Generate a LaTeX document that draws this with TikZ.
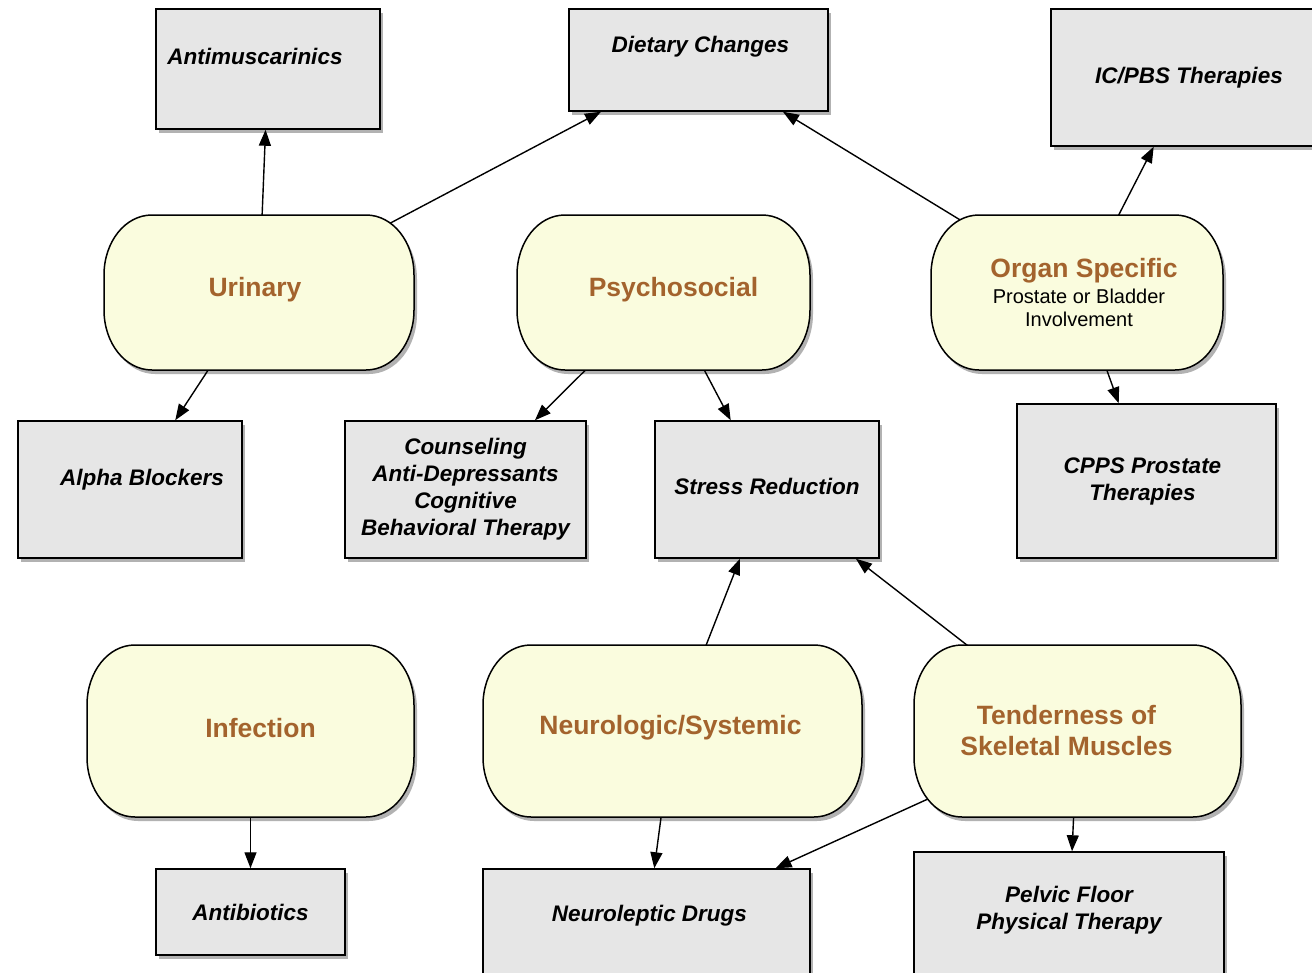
\documentclass[tikz,border=0pt]{standalone}
\usepackage{fontspec}
\setmainfont{Liberation Sans}
\usetikzlibrary{shadows,arrows.meta,backgrounds}
\definecolor{boxgray}{RGB}{230,230,230}
\definecolor{ovalfill}{RGB}{250,252,222}
\definecolor{titlebrown}{RGB}{163,99,45}
\newcommand\capsulepath{({\cL+48},{\cT}) -- ({\cR-48},{\cT})
  .. controls ({\cR-21},{\cT}) and ({\cR},{\cT+27}) .. ({\cR},{\cT+60})
  -- ({\cR},{\cB-60})
  .. controls ({\cR},{\cB-27}) and ({\cR-21},{\cB}) .. ({\cR-48},{\cB})
  -- ({\cL+48},{\cB})
  .. controls ({\cL+21},{\cB}) and ({\cL},{\cB-27}) .. ({\cL},{\cB-60})
  -- ({\cL},{\cT+60})
  .. controls ({\cL},{\cT+27}) and ({\cL+21},{\cT}) .. ({\cL+48},{\cT}) -- cycle}
\newcommand\capsule[4]{%
  \pgfmathsetmacro\cL{#1-#3/2}\pgfmathsetmacro\cR{#1+#3/2}%
  \pgfmathsetmacro\cT{#2-#4/2}\pgfmathsetmacro\cB{#2+#4/2}%
  \fill[black,opacity=0.3,shift={(3,4)}] \capsulepath;
  \draw[line width=1.5pt,fill=ovalfill] \capsulepath;}
\begin{document}
\begin{tikzpicture}[x=1pt,y=-1pt,
  shad/.style={drop shadow={shadow xshift=3pt,shadow yshift=-4pt,fill=black,opacity=0.3}},
  boxfont/.style={font=\fontsize{22.5}{27}\selectfont\bfseries\itshape,align=center},
  gbox/.style={shad,draw=black,line width=1.5pt,fill=boxgray,boxfont,inner sep=0pt},
  ovalfont/.style={font=\fontsize{26.5}{31}\selectfont\bfseries,text=titlebrown,align=center},
  oval/.style={ovalfont,inner sep=0pt},
  arr/.style={-{Triangle[length=16pt,width=12pt]},line width=1.4pt}]
\useasboundingbox (0,0) rectangle (1312,972);
% boxes
\node[gbox,minimum width=224pt,minimum height=120pt,
  label={[boxfont,xshift=-13pt,yshift=13pt]center:Antimuscarinics}] (anti) at (268,69) {};
\node[gbox,minimum width=259pt,minimum height=102pt,
  label={[boxfont,xshift=2pt,yshift=13pt]center:Dietary Changes}] (diet) at (698.5,60) {};
\node[gbox,minimum width=276pt,minimum height=137pt] (icpbs) at (1189,77.5) {IC/PBS Therapies};
\node[gbox,minimum width=224pt,minimum height=137pt,
  label={[boxfont,xshift=12pt,yshift=10pt]center:Alpha Blockers}] (alpha) at (130,489.5) {};
\node[gbox,minimum width=241pt,minimum height=137pt] (couns) at (465.5,489.5)
  {Counseling\\Anti-Depressants\\Cognitive\\Behavioral Therapy};
\node[gbox,minimum width=224pt,minimum height=137pt,
  label={[boxfont,yshift=3pt]center:Stress Reduction}] (stress) at (767,489.5) {};
\node[gbox,minimum width=259pt,minimum height=154pt,
  label={[boxfont,xshift=-4pt]center:CPPS Prostate\\Therapies}] (cpps) at (1146.5,481) {};
\node[gbox,minimum width=189pt,minimum height=86pt] (antib) at (250.5,912) {Antibiotics};
\node[gbox,minimum width=327pt,minimum height=116pt,
  label={[boxfont,xshift=3pt,yshift=11pt]center:Neuroleptic Drugs}] (neurod) at (646.5,927) {};
\node[gbox,minimum width=310pt,minimum height=133pt,
  label={[boxfont,yshift=8pt]center:Pelvic Floor\\Physical Therapy}] (pelvic) at (1069,918.5) {};
% ovals (shapes)
\capsule{259}{292.5}{310}{155}
\capsule{663.5}{292.5}{293}{155}
\capsule{1077}{292.5}{292}{155}
\capsule{250.5}{731}{327}{172}
\capsule{672.5}{731}{379}{172}
\capsule{1077.5}{731}{327}{172}
% ovals (nodes)
\node[oval,minimum width=310pt,minimum height=155pt,
  label={[ovalfont,xshift=-4pt,yshift=3pt]center:Urinary}] (urin) at (259,292.5) {};
\node[oval,minimum width=293pt,minimum height=155pt,
  label={[ovalfont,xshift=10pt,yshift=3pt]center:Psychosocial}] (psych) at (663.5,292.5) {};
\node[oval,minimum width=292pt,minimum height=155pt,font=\fontsize{20}{23}\selectfont,text=black] (organ) at (1079,292.5)
  {{\fontsize{26.5}{31}\selectfont\bfseries\color{titlebrown}\hspace*{10pt}Organ Specific}\\[3pt]Prostate or Bladder\\Involvement};
\node[oval,minimum width=327pt,minimum height=172pt,
  label={[ovalfont,xshift=10pt,yshift=3pt]center:Infection}] (infect) at (250.5,731) {};
\node[oval,minimum width=379pt,minimum height=172pt,
  label={[ovalfont,xshift=-2pt,yshift=3pt]center:Neurologic/Systemic}] (neuro) at (672.5,731) {};
\node[oval,minimum width=327pt,minimum height=172pt,
  label={[ovalfont,xshift=-11pt,yshift=0pt]center:Tenderness of\\Skeletal Muscles}] (tender) at (1077.5,731) {};
% connectors
\begin{scope}[on background layer]
\draw[arr] (urin.center) -- (anti);
\draw[arr] (urin.center) -- (diet);
\draw[arr] (organ.center) -- (diet);
\draw[arr] (organ.center) -- (icpbs);
\draw[arr] (urin.center) -- (alpha);
\draw[arr] (psych.center) -- (couns);
\draw[arr] (psych.center) -- (stress);
\draw[arr] (organ.center) -- (cpps);
\draw[arr] (neuro.center) -- (stress);
\draw[arr] (tender.center) -- (stress);
\draw[arr] (infect.center) -- (antib);
\draw[arr] (neuro.center) -- (neurod);
\draw[arr] (tender.center) -- (neurod);
\draw[arr] (tender.center) -- (pelvic);
\end{scope}
\end{tikzpicture}
\end{document}
